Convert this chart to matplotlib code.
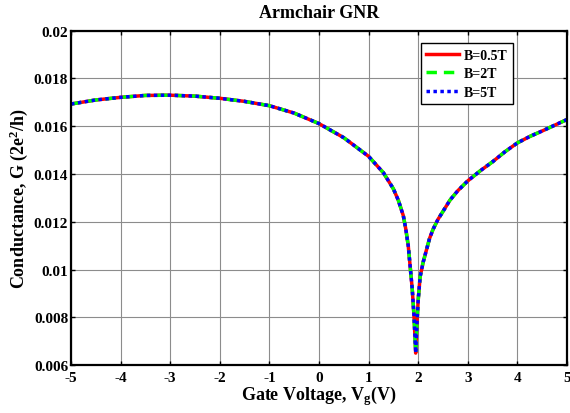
import numpy as np
import matplotlib
matplotlib.use('Agg')
import matplotlib.pyplot as plt

# data (the three B curves overlap)
vg = [-5.0, -4.5, -4.0, -3.5, -3.0, -2.5, -2.0, -1.5, -1.0, -0.5, 0.0, 0.5,
      1.0, 1.3, 1.5, 1.6, 1.7, 1.75, 1.8, 1.88, 1.915, 1.94, 1.95, 1.97, 2.0,
      2.04, 2.1, 2.23, 2.3, 2.4, 2.5, 2.64, 2.8, 3.0, 3.25, 3.5, 3.75, 4.0,
      4.25, 4.5, 4.75, 5.0]
g_05 = [0.01693, 0.01710, 0.01721, 0.01729, 0.01730, 0.01726, 0.01717, 0.01704,
        0.01686, 0.01655, 0.01611, 0.01552, 0.01474, 0.01405, 0.01338, 0.01290,
        0.01226, 0.01170, 0.01100, 0.00920, 0.00810, 0.00700, 0.00650, 0.00750,
        0.00870, 0.00970, 0.01030, 0.01130, 0.01168, 0.01210, 0.01243, 0.01290,
        0.01330, 0.01371, 0.01413, 0.01451, 0.01493, 0.01530, 0.01557, 0.01580,
        0.01604, 0.01628]
g_2 = list(g_05)
g_5 = list(g_05)

labels = ['B=0.5T', 'B=2T', 'B=5T']
xticks = [-5, -4, -3, -2, -1, 0, 1, 2, 3, 4, 5]
yticks = [0.006, 0.008, 0.01, 0.012, 0.014, 0.016, 0.018, 0.02]
yticklabels = ['0.006', '0.008', '0.01', '0.012', '0.014', '0.016', '0.018', '0.02']

plt.rcParams['font.family'] = ['Liberation Serif', 'DejaVu Serif']
plt.rcParams['font.weight'] = 'bold'
plt.rcParams['axes.unicode_minus'] = False
plt.rcParams['mathtext.fontset'] = 'custom'
plt.rcParams['mathtext.rm'] = 'Liberation Serif:bold'
plt.rcParams['mathtext.bf'] = 'Liberation Serif:bold'
plt.rcParams['mathtext.it'] = 'Liberation Serif:bold'
plt.rcParams['mathtext.default'] = 'bf'

fig = plt.figure(figsize=(5.7, 4.14), dpi=100)
ax = fig.add_axes([0.1246, 0.1159, 0.870, 0.8075])

ax.plot(vg, g_05, color='#ff0000', lw=2.5, ls='-', label=labels[0])
ax.plot(vg, g_2, color='#00ff00', lw=2.5, ls=(0, (3, 2)), label=labels[1])
ax.plot(vg, g_5, color='#0000ff', lw=2.5, ls=(0, (1, 1)), label=labels[2])

ax.set_xlim(-5, 5)
ax.set_ylim(0.006, 0.02)
ax.set_xticks(xticks)
ax.set_xticklabels([str(t) for t in xticks])
ax.set_yticks(yticks)
ax.set_yticklabels(yticklabels)
ax.grid(True, color='#8c8c8c', lw=0.8, ls='-')
ax.set_axisbelow(True)
ax.tick_params(direction='in', top=True, right=True, length=3, width=1,
               labelsize=11)
ax.tick_params(axis='x', pad=4)
ax.tick_params(axis='y', pad=2)
for lab in ax.get_xticklabels() + ax.get_yticklabels():
    lab.set_fontweight('bold')
for sp in ax.spines.values():
    sp.set_linewidth(1.6)

ax.set_title('Armchair GNR', fontsize=13, fontweight='bold', pad=10)
ax.set_xlabel('Gate Voltage, V$_g$(V)', fontsize=13, fontweight='bold', labelpad=0)
ax.set_ylabel('Conductance, G (2e$^2$/h)', fontsize=13, fontweight='bold', labelpad=3)

leg = ax.legend(loc='upper right', bbox_to_anchor=(0.891, 0.963),
                borderaxespad=0, fancybox=False, framealpha=1,
                edgecolor='black', handlelength=2.4, handletextpad=0.3,
                borderpad=0.4, labelspacing=0.4,
                prop={'weight': 'bold', 'size': 10})
leg.get_frame().set_linewidth(1.0)

fig.savefig('out.png', dpi=100)
